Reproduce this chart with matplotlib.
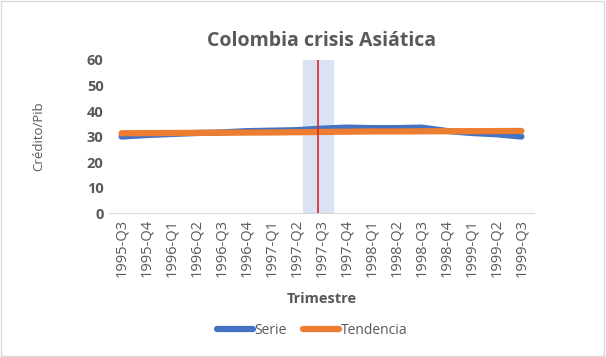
import matplotlib.pyplot as plt
from matplotlib.patches import Rectangle

quarters = [
    "1995-Q3", "1995-Q4", "1996-Q1", "1996-Q2", "1996-Q3", "1996-Q4",
    "1997-Q1", "1997-Q2", "1997-Q3", "1997-Q4", "1998-Q1", "1998-Q2",
    "1998-Q3", "1998-Q4", "1999-Q1", "1999-Q2", "1999-Q3",
]
serie = [30.0, 30.6, 31.0, 31.4, 31.6, 32.1, 32.3, 32.5, 33.1, 33.5, 33.3,
         33.3, 33.5, 32.2, 31.4, 30.9, 30.0]
tendencia = [31.3, 31.35, 31.4, 31.45, 31.5, 31.55, 31.6, 31.7, 31.8, 31.9,
             32.0, 32.0, 32.05, 32.1, 32.1, 32.15, 32.2]
crisis_quarter = "1997-Q3"

plt.rcParams["font.family"] = ["Open Sans", "DejaVu Sans"]
gray = "#595959"

fig = plt.figure(figsize=(6.06, 3.57), dpi=100)
fig.patches.append(Rectangle((0.002, 0.003), 0.995, 0.994, transform=fig.transFigure,
                             fill=False, edgecolor="#D9D9D9", linewidth=1))
ax = fig.add_axes([0.18, 0.403, 0.701, 0.429])

x = list(range(len(quarters)))
# Excel draws the crisis marker a bit left of the category centre
cx = quarters.index(crisis_quarter) - 0.15
ax.axvspan(cx - 0.6, cx + 0.6, color="#DAE3F3", zorder=0)
ax.plot(x, serie, color="#4472C4", linewidth=4.5, solid_capstyle="round", label="Serie", zorder=2)
ax.plot(x, tendencia, color="#ED7D31", linewidth=4.5, solid_capstyle="round", label="Tendencia", zorder=3)
ax.axvline(cx, color="#D62728", linewidth=1.2, zorder=4)

ax.set_xlim(-0.5, len(quarters) - 0.5)
ax.set_ylim(0, 60)
ax.set_yticks(range(0, 61, 10))
ax.set_xticks(x)
ax.set_xticklabels(quarters, rotation=90, fontsize=10.5, color=gray)
for lab in ax.get_yticklabels():
    lab.set_fontweight("bold")
    lab.set_fontsize(10.5)
    lab.set_color(gray)
ax.tick_params(length=0, pad=4)
for s in ["top", "right", "left"]:
    ax.spines[s].set_visible(False)
ax.spines["bottom"].set_color("#D9D9D9")

ax.set_title("Colombia crisis Asiática", fontsize=14, fontweight="bold", color=gray, pad=10)
ax.set_xlabel("Trimestre", fontsize=10.5, fontweight="bold", color=gray, labelpad=11)
ax.set_ylabel("Crédito/Pib", fontsize=9.5, color=gray, labelpad=30)

leg = fig.legend(loc="center", bbox_to_anchor=(0.515, 0.075), ncol=2, frameon=False,
                 fontsize=10, handlelength=2.6, handletextpad=0.1, columnspacing=1.2)
for t in leg.get_texts():
    t.set_color(gray)

fig.savefig("out.png", dpi=100)
